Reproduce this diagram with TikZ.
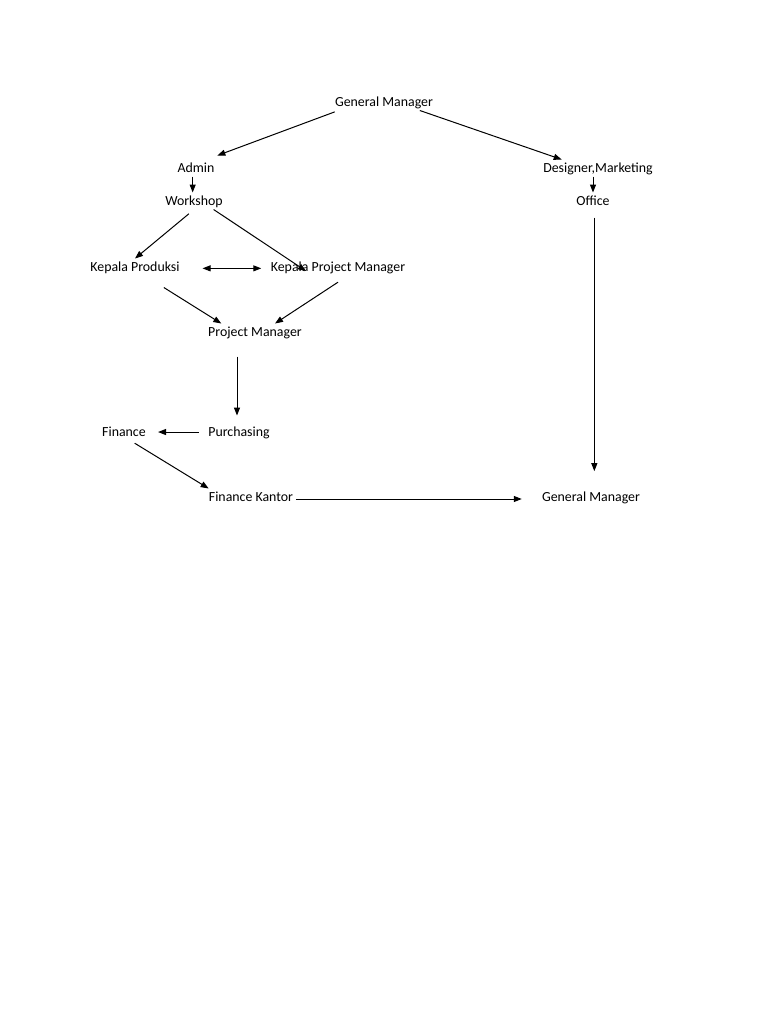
\documentclass[tikz,border=0pt]{standalone}
\usepackage{fontspec}
\setmainfont{Carlito}
\usepackage{tikz}
\usetikzlibrary{arrows.meta, positioning, calc}

\begin{document}
\begin{tikzpicture}[
  x=0.75pt, y=-0.75pt,
  every node/.style={font=\fontsize{10.4}{12}\selectfont},
  unit/.style={inner sep=2pt, anchor=base, text height=1.5ex, text depth=.25ex},
  arr/.style={-{Triangle[length=6pt, width=4.5pt]}, line width=0.75pt},
  darr/.style={{Triangle[length=6pt, width=4.5pt]}-{Triangle[length=6pt, width=4.5pt]}, line width=0.75pt},
]

%% ── PAGE ──────────────────────────────────────────────────────────────
\fill[white] (0,0) rectangle (768,1024);
\useasboundingbox (0,0) rectangle (768,1024);

%% ── TOP ───────────────────────────────────────────────────────────────
\node[unit] (gmtop)    at (384, 106) {General Manager};
\node[unit] (admin)    at (196, 172) {Admin};
\node[unit] (workshop) at (194, 205) {Workshop};
\node[unit] (designer) at (598, 172) {Designer,Marketing};
\node[unit] (office)   at (593, 205) {Office};

%% ── PRODUCTION ────────────────────────────────────────────────────────
\node[unit] (kprod)    at (135, 271) {Kepala Produksi};
\node[unit] (kpm)      at (338, 271) {Kepala Project Manager};
\node[unit] (pm)       at (255, 336) {Project Manager};

%% ── FINANCE ───────────────────────────────────────────────────────────
\node[unit] (purch)    at (239, 436) {Purchasing};
\node[unit] (finance)  at (124, 436) {Finance};
\node[unit] (finkantor) at (251, 501) {Finance Kantor};
\node[unit] (gmbottom) at (591, 501) {General Manager};

%% ═════════════════════════════════════════════════════════════════════
%% ARROWS
%% ═════════════════════════════════════════════════════════════════════

%% General Manager → Admin / Designer
\draw[arr] ([xshift=2pt, yshift=-1pt]gmtop.south west) -- ([yshift=3pt]admin.north east);
\draw[arr] ([xshift=-12pt]gmtop.south east) -- ([xshift=16pt]designer.north west);

%% Admin → Workshop, Designer → Office
\draw[arr] ([xshift=-1pt]workshop.north |- admin.south) -- ([xshift=-1pt]workshop.north);
\draw[arr] (office.north |- designer.south) -- (office.north);

%% Workshop → Kepala Produksi / Kepala Project Manager
\draw[arr, shorten <=5pt] (workshop.south) -- (kprod.north);
\draw[arr] ([xshift=-9pt]workshop.south east) -- ([xshift=-24pt, yshift=-3pt]kpm.center);

%% Kepala Produksi ↔ Kepala Project Manager
\draw[darr] ([xshift=15pt, yshift=-1pt]kprod.east) -- ([xshift=-5pt, yshift=-1pt]kpm.west);

%% → Project Manager
\draw[arr] ([xshift=-14pt, yshift=-9pt]kprod.south east) -- ([xshift=12pt]pm.north west);
\draw[arr] ([yshift=-5pt]kpm.south) -- ([xshift=15pt]pm.north);

%% Project Manager → Purchasing → Finance → Finance Kantor
\draw[arr, shorten <=12pt, shorten >=6pt] ([xshift=-1.5pt]pm.south -| purch.north) -- ([xshift=-1.5pt]purch.north);
\draw[arr, shorten <=5pt, shorten >=7pt] (purch.west) -- (finance.east);
\draw[arr] ([xshift=8pt, yshift=-2pt]finance.south) -- ([xshift=2pt]finkantor.north west);

%% → General Manager
\draw[arr, shorten >=13pt] ([yshift=1.5pt]finkantor.base east) -- ([yshift=1.5pt]gmbottom.base west);
\draw[arr, shorten <=6pt, shorten >=13pt] ([xshift=1pt]office.south) -- ([xshift=1pt]office.south |- gmbottom.north);

\end{tikzpicture}
\end{document}
